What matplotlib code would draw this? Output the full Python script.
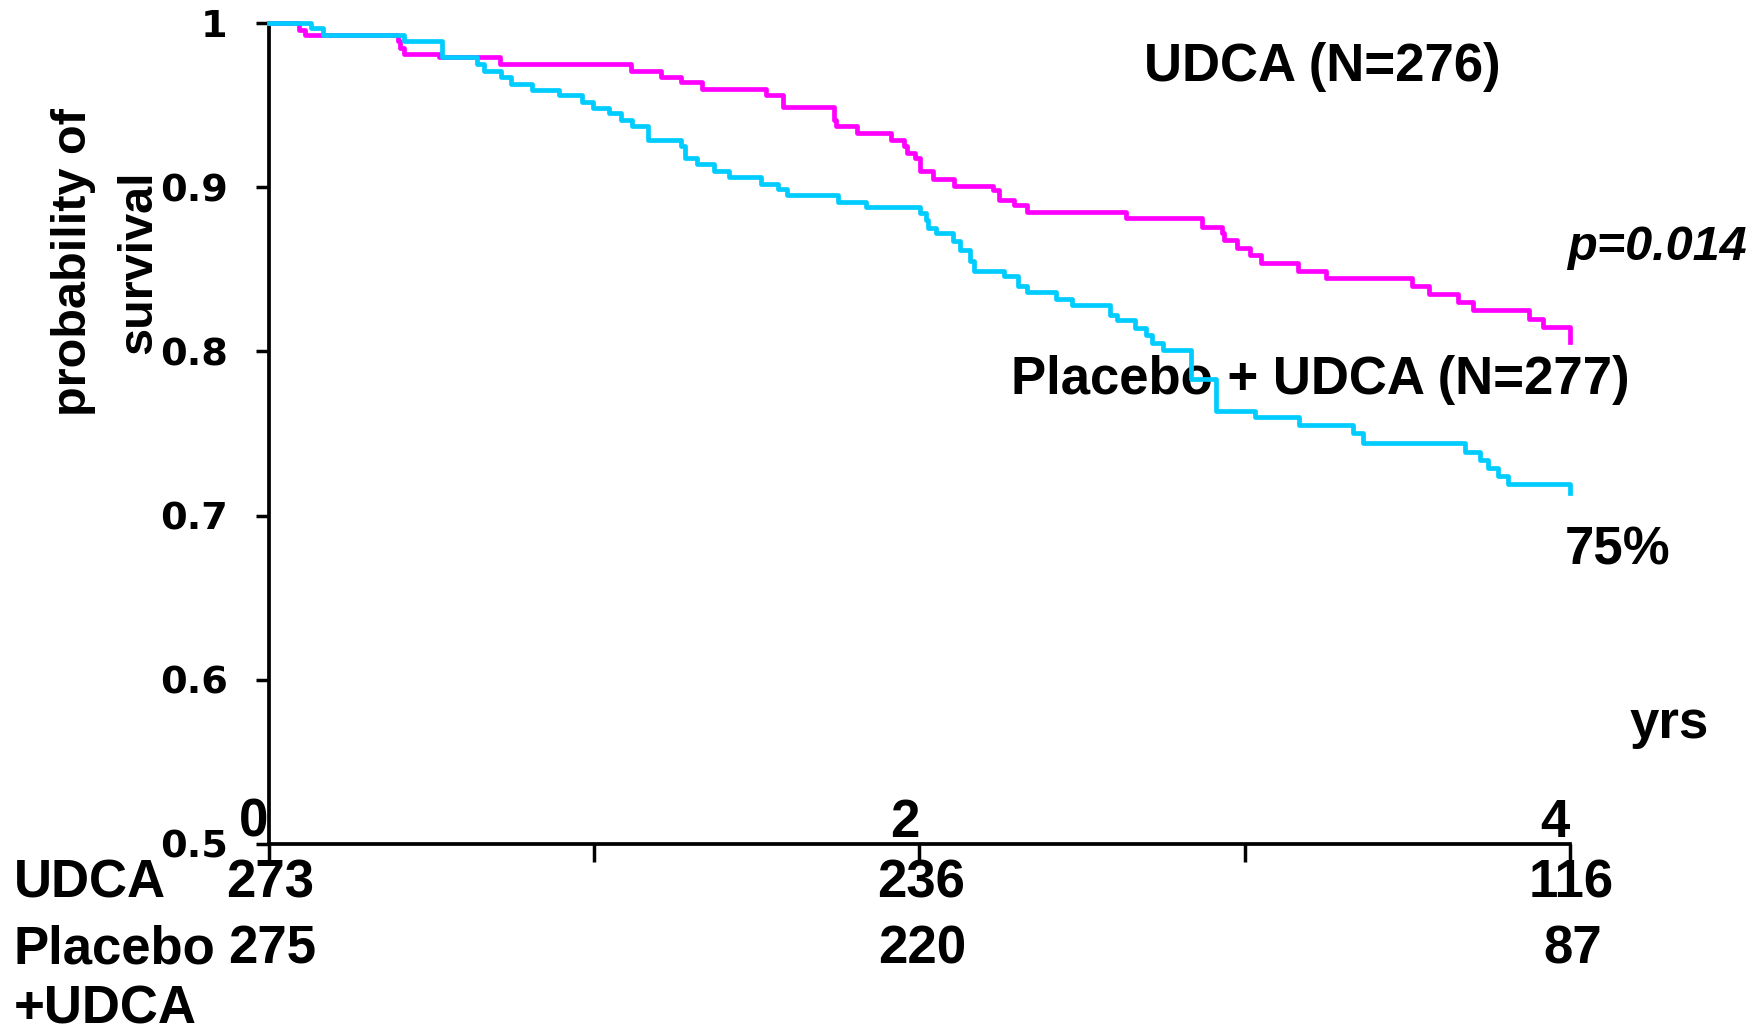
import matplotlib
matplotlib.use("Agg")
import matplotlib.pyplot as plt
import matplotlib.transforms as mtransforms

plt.rcParams['font.family'] = ['Liberation Sans', 'DejaVu Sans']
plt.rcParams['font.weight'] = 'bold'

# survival curves (years, probability)
udca_t = [0, 0.093, 0.112, 0.396, 0.405, 0.415, 0.523, 0.711, 1.114, 1.206,
          1.267, 1.333, 1.53, 1.582, 1.737, 1.745, 1.807, 1.913, 1.953, 1.962,
          1.988, 2.003, 2.042, 2.106, 2.226, 2.245, 2.29, 2.33, 2.636, 2.869,
          2.93, 2.937, 2.975, 3.016, 3.05, 3.163, 3.25, 3.515, 3.567, 3.657,
          3.702, 3.874, 3.916, 4.0]
udca_s = [1.0, 0.996, 0.993, 0.989, 0.985, 0.981, 0.979, 0.975, 0.971, 0.967,
          0.964, 0.960, 0.956, 0.949, 0.941, 0.937, 0.933, 0.929, 0.925, 0.921,
          0.918, 0.910, 0.905, 0.901, 0.898, 0.892, 0.889, 0.885, 0.881, 0.876,
          0.872, 0.868, 0.863, 0.859, 0.854, 0.849, 0.845, 0.840, 0.835, 0.830,
          0.825, 0.820, 0.815, 0.806]

plac_t = [0, 0.13, 0.168, 0.415, 0.533, 0.639, 0.662, 0.714, 0.745, 0.81,
          0.892, 0.962, 0.997, 1.046, 1.082, 1.117, 1.165, 1.267, 1.279, 1.317,
          1.37, 1.415, 1.512, 1.567, 1.593, 1.749, 1.836, 2.003, 2.02, 2.027,
          2.051, 2.104, 2.126, 2.157, 2.168, 2.259, 2.304, 2.33, 2.419, 2.468,
          2.586, 2.607, 2.663, 2.697, 2.714, 2.75, 2.835, 2.913, 3.031, 3.167,
          3.333, 3.364, 3.677, 3.723, 3.748, 3.779, 3.81, 4.0]
plac_s = [1.0, 0.997, 0.993, 0.989, 0.979, 0.975, 0.971, 0.967, 0.963, 0.959,
          0.956, 0.952, 0.948, 0.945, 0.941, 0.937, 0.929, 0.925, 0.918, 0.914,
          0.910, 0.906, 0.902, 0.899, 0.895, 0.891, 0.888, 0.884, 0.880, 0.875,
          0.872, 0.867, 0.862, 0.855, 0.849, 0.846, 0.840, 0.836, 0.832, 0.828,
          0.822, 0.819, 0.814, 0.810, 0.805, 0.801, 0.783, 0.764, 0.760, 0.755,
          0.750, 0.744, 0.739, 0.734, 0.729, 0.724, 0.719, 0.714]

# numbers at risk
risk_years = [0, 2, 4]
risk_udca = [273, 236, 116]
risk_plac = [275, 220, 87]

yticks = [0.5, 0.6, 0.7, 0.8, 0.9, 1.0]
ytick_labels = ['0.5', '0.6', '0.7', '0.8', '0.9', '1']
xticks = [0, 1, 2, 3, 4]
xtick_labels = {0: '0', 2: '2', 4: '4'}

magenta = '#FF00FF'
cyan = '#00CCFF'

fig = plt.figure(figsize=(17.62, 10.32), dpi=100)
ax = fig.add_axes([0.1525, 0.1822, 0.7385, 0.7955])

ax.plot(udca_t, udca_s, drawstyle='steps-post', color=magenta, lw=3.4, clip_on=False, zorder=3)
ax.plot(plac_t, plac_s, drawstyle='steps-post', color=cyan, lw=3.4, clip_on=False, zorder=4)

ax.set_xlim(0, 4)
ax.set_ylim(0.5, 1.0)
for side in ['top', 'right']:
    ax.spines[side].set_visible(False)
for side in ['left', 'bottom']:
    ax.spines[side].set_linewidth(2.7)

ax.set_yticks(yticks)
ax.set_yticklabels(ytick_labels, fontfamily='DejaVu Sans', fontweight='bold', fontsize=27.5)
ax.tick_params(axis='y', direction='out', length=9.5, width=2.5, pad=20)
ax.set_xticks(xticks)
ax.set_xticklabels([])
ax.tick_params(axis='x', direction='out', length=13, width=2.5)

# x tick labels sit above the axis line
for x, lab in xtick_labels.items():
    ax.annotate(lab, (x, 0.5), xytext=(0, 7), textcoords='offset pixels',
                ha='right', va='baseline', fontsize=38, annotation_clip=False)

fs = 38
ax.text(2.691, 0.973, 'UDCA (N=276)', fontsize=fs, ha='left', va='center')
ax.text(3.99, 0.8557, 'p=0.014', fontsize=35, style='italic', ha='left', va='baseline')
ax.text(2.282, 0.7827, 'Placebo + UDCA (N=277)', fontsize=fs, ha='left', va='center', zorder=2)
ax.text(3.985, 0.6787, '75%', fontsize=fs, ha='left', va='center', clip_on=False)
ax.text(4.184, 0.5646, 'yrs', fontsize=fs, ha='left', va='baseline', clip_on=False)

fig.text(106 / 1762, 1 - 262 / 1032, 'probability of\nsurvival', rotation=90,
         fontsize=35, ha='center', va='center', multialignment='center', linespacing=1.6)

# at-risk table
trans = mtransforms.blended_transform_factory(ax.transData, fig.transFigure)
row1_y, row2_y, row3_y = 1 - 884 / 1032, 1 - 949.5 / 1032, 1 - 1009 / 1032
fig.text(13.5 / 1762, row1_y, 'UDCA', fontsize=fs, ha='left', va='center')
fig.text(13.5 / 1762, row2_y, 'Placebo', fontsize=fs, ha='left', va='center')
fig.text(13.5 / 1762, row3_y, '+UDCA', fontsize=fs, ha='left', va='center')
for x, n in zip(risk_years, risk_udca):
    ax.text(x + 0.005, row1_y, str(n), transform=trans, fontsize=fs, ha='center', va='center')
for x, n in zip(risk_years, risk_plac):
    ax.text(x + 0.01, row2_y, str(n), transform=trans, fontsize=fs, ha='center', va='center')

fig.savefig('out.png', dpi=100)
